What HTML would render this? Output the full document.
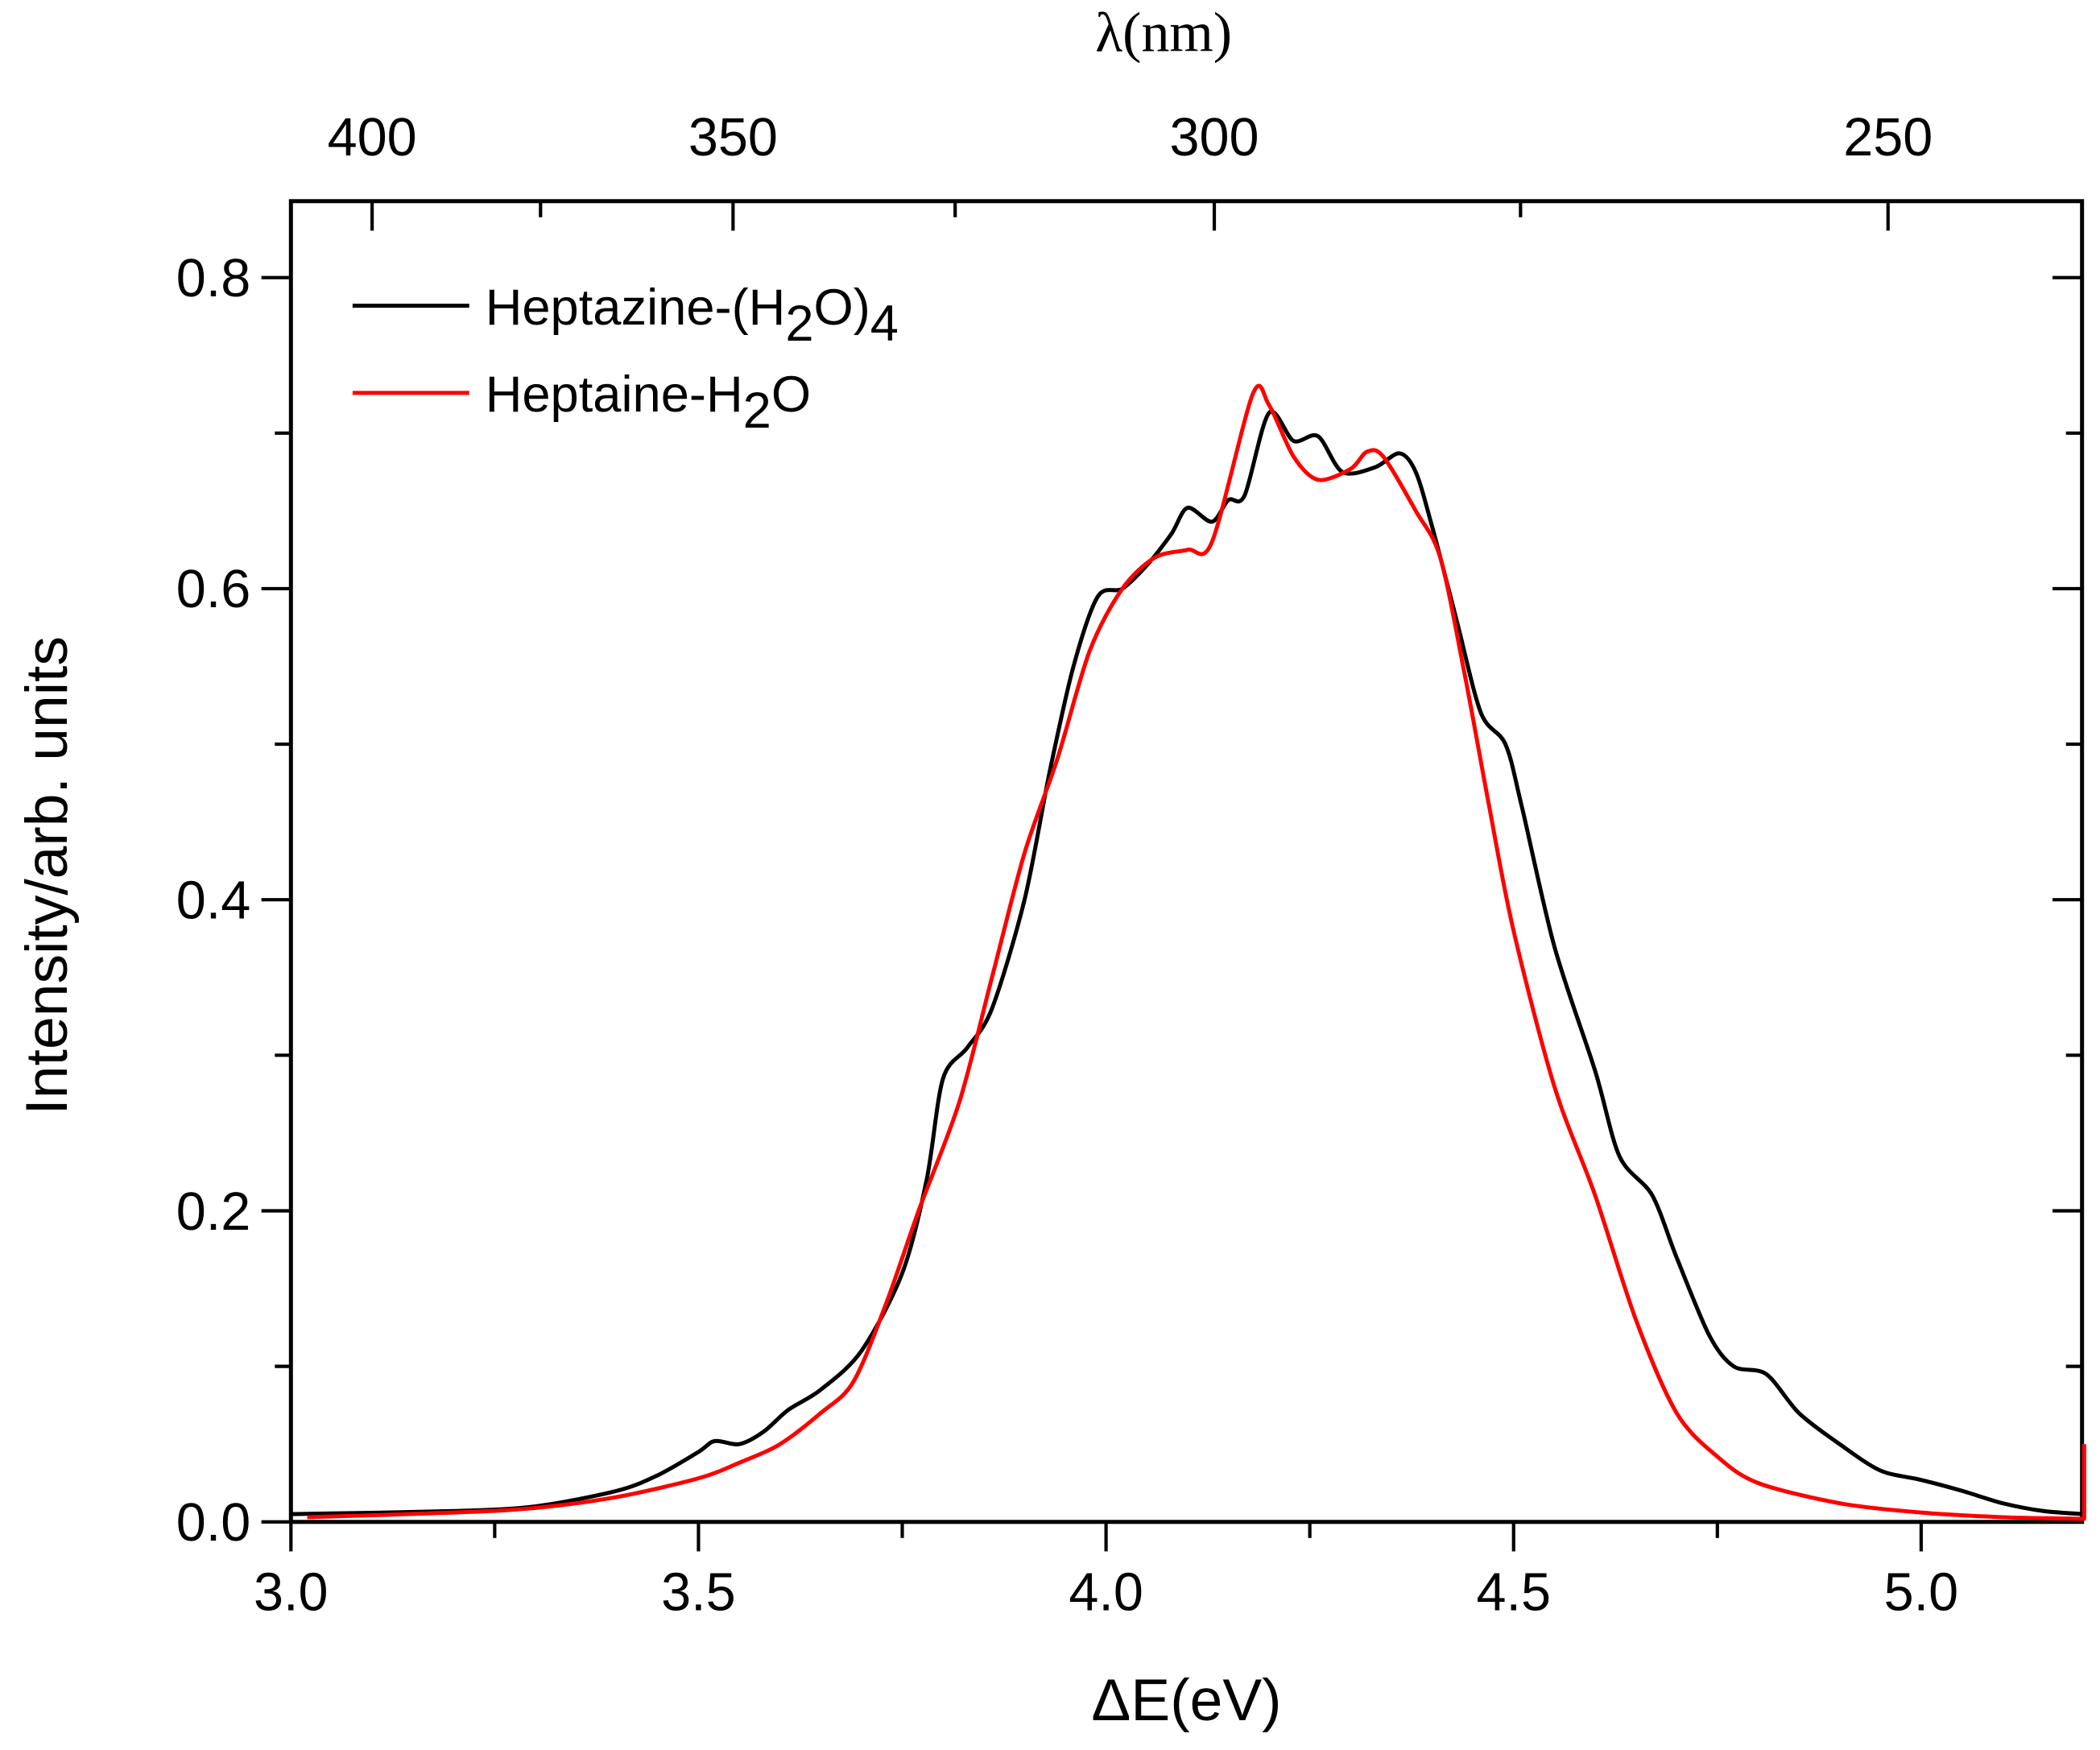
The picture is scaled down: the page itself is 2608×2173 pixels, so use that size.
<!DOCTYPE html>
<html><head><meta charset="utf-8"><style>
html,body{margin:0;padding:0;background:#fff;}
svg{display:block;font-family:"Liberation Sans",sans-serif;}
</style></head><body>
<svg id="chart" width="2608" height="2173" viewBox="0 0 1566.4 1305.1" xmlns="http://www.w3.org/2000/svg">
<g id="axes"></g>
<g id="series"></g>
<g>
  <line x1="263" y1="228" x2="350" y2="228" stroke="#000" stroke-width="3"/>
  <text x="362" y="242" font-size="38">Heptazine-(H<tspan dy="12">2</tspan><tspan dy="-12">O)</tspan><tspan dy="12">4</tspan></text>
  <line x1="263" y1="293" x2="350" y2="293" stroke="#ff0000" stroke-width="3"/>
  <text x="362" y="307" font-size="38">Heptaine-H<tspan dy="12">2</tspan><tspan dy="-12">O</tspan></text>
</g>
<text x="885" y="1283" font-size="44" text-anchor="middle">ΔE(eV)</text>
<text x="868" y="38" font-size="42" text-anchor="middle" font-family="Liberation Serif, serif">λ(nm)</text>
<text transform="translate(50,653) rotate(-90)" font-size="44" text-anchor="middle">Intensity/arb. units</text>
</svg>
<script>
const xTicks = [3.0, 3.5, 4.0, 4.5, 5.0];
const xTickLabels = ["3.0", "3.5", "4.0", "4.5", "5.0"];
const xMinor = [3.25, 3.75, 4.25, 4.75];
const yTicks = [0, 0.2, 0.4, 0.6, 0.8];
const yTickLabels = ["0.0", "0.2", "0.4", "0.6", "0.8"];
const yMinor = [0.1, 0.3, 0.5, 0.7];
const topTicks = [400, 350, 300, 250];
const topMinor = [375, 325, 275];
const blackE = [3.0,3.2,3.3,3.4,3.45,3.5,3.52,3.55,3.58,3.61,3.65,3.7,3.75,3.78,3.8,3.83,3.86,3.9,3.93,3.96,3.99,4.02,4.05,4.08,4.1,4.13,4.15,4.17,4.2,4.23,4.26,4.29,4.33,4.36,4.38,4.4,4.43,4.46,4.49,4.51,4.55,4.6,4.63,4.67,4.7,4.74,4.77,4.81,4.85,4.9,4.95,5.0,5.05,5.1,5.15,5.2];
const blackI = [0.005,0.007,0.01,0.02,0.03,0.045,0.052,0.05,0.058,0.072,0.085,0.11,0.16,0.22,0.285,0.305,0.33,0.40,0.48,0.55,0.595,0.60,0.615,0.635,0.652,0.643,0.657,0.66,0.713,0.695,0.698,0.675,0.678,0.687,0.675,0.64,0.58,0.52,0.5,0.46,0.37,0.29,0.235,0.21,0.17,0.12,0.1,0.095,0.07,0.05,0.033,0.027,0.02,0.012,0.007,0.005];
const redE = [3.02,3.2,3.3,3.4,3.5,3.55,3.6,3.65,3.69,3.73,3.77,3.82,3.86,3.9,3.94,3.98,4.02,4.06,4.1,4.13,4.18,4.2,4.23,4.26,4.3,4.32,4.34,4.38,4.41,4.44,4.47,4.5,4.55,4.6,4.65,4.7,4.75,4.8,4.9,5.0,5.1,5.2,5.2];
const redI = [0.003,0.006,0.009,0.016,0.028,0.038,0.05,0.07,0.09,0.14,0.2,0.27,0.35,0.43,0.49,0.56,0.6,0.62,0.625,0.63,0.725,0.718,0.685,0.67,0.677,0.688,0.685,0.65,0.62,0.545,0.46,0.38,0.28,0.21,0.13,0.07,0.042,0.025,0.012,0.006,0.003,0.002,0.05];

const L=217,R=1553,T=150,B=1135;
function xs(v){return L+(v-3)*608;}
function ys(v){return B-v*1160;}
function xl(nm){return xs(1239.84/nm);}
const NS="http://www.w3.org/2000/svg";
const axes=document.getElementById('axes');
function mk(tag,attrs,parent){const e=document.createElementNS(NS,tag);for(const k in attrs)e.setAttribute(k,attrs[k]);parent.appendChild(e);return e;}
function ln(x1,y1,x2,y2,name,w){const e=mk('line',{x1,y1,x2,y2,stroke:'#000','stroke-width':w||2.5},axes);

return e;}
const frame=mk('rect',{x:L,y:T,width:R-L,height:B-T,fill:'none',stroke:'#000','stroke-width':3},axes);


xTicks.forEach((v,i)=>{const x=xs(v);ln(x,B,x,B+22,'x-tick');
const t=mk('text',{x:x,y:B+66,'font-size':40,'text-anchor':'middle'},axes);t.textContent=xTickLabels[i];

});
xMinor.forEach(v=>{const x=xs(v);ln(x,B,x,B+12,'x-minor-tick');});
yTicks.forEach((v,i)=>{const y=ys(v);ln(L-22,y,L,y,'y-tick');ln(R-22,y,R,y,'y-tick-right');
const t=mk('text',{x:L-30,y:y+14,'font-size':40,'text-anchor':'end'},axes);t.textContent=yTickLabels[i];

});
yMinor.forEach(v=>{const y=ys(v);ln(L-12,y,L,y,'y-minor-tick');ln(R-12,y,R,y,'y-minor-tick-right');});
topTicks.forEach(v=>{const x=xl(v);ln(x,T,x,T+22,'top-tick');
const t=mk('text',{x:x,y:116,'font-size':40,'text-anchor':'middle'},axes);t.textContent=String(v);

});
topMinor.forEach(v=>{const x=xl(v);ln(x,T,x,T+12,'top-minor-tick');});
const series=document.getElementById('series');
function drawLine(E,I,color,name){
const P=E.map((e,i)=>[xs(e),ys(I[i])]);
let d='M'+P[0][0].toFixed(1)+','+P[0][1].toFixed(1);
for(let i=0;i<P.length-1;i++){
const p1=P[i],p2=P[i+1];
if(Math.abs(p2[0]-p1[0])<0.01){d+=' L'+p2[0].toFixed(1)+','+p2[1].toFixed(1);continue;}
let p0=P[Math.max(i-1,0)],p3=P[Math.min(i+2,P.length-1)];
if(Math.abs(p3[0]-p2[0])<0.01)p3=p2;
const t=0.15;
const c1=[p1[0]+(p2[0]-p0[0])*t,p1[1]+(p2[1]-p0[1])*t];
const c2=[p2[0]-(p3[0]-p1[0])*t,p2[1]-(p3[1]-p1[1])*t];
d+=' C'+c1[0].toFixed(1)+','+c1[1].toFixed(1)+' '+c2[0].toFixed(1)+','+c2[1].toFixed(1)+' '+p2[0].toFixed(1)+','+p2[1].toFixed(1);}
const p=mk('path',{d:d,fill:'none',stroke:color,'stroke-width':3,'stroke-linejoin':'round'},series);

}
drawLine(blackE,blackI,'#000','heptazine-h2o4-line');
drawLine(redE,redI,'#ff0000','heptaine-h2o-line');
</script>
</body></html>
